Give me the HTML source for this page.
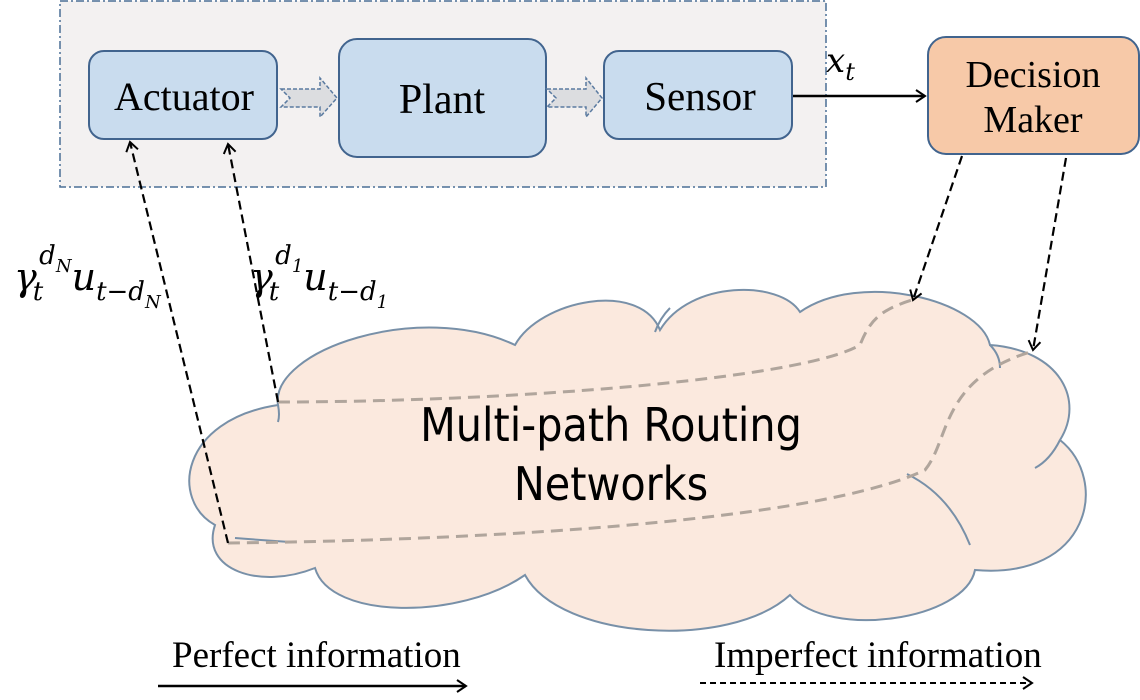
<!DOCTYPE html>
<html><head><meta charset="utf-8"><style>
body{margin:0;background:#fff;}
svg{display:block}
.s{font-family:"Liberation Serif",serif;fill:#000}
.m{font-family:"DejaVu Serif","Liberation Serif",serif;font-style:italic;fill:#000}
</style></head><body>
<svg width="1140" height="700" viewBox="0 0 1140 700" xmlns="http://www.w3.org/2000/svg">
<defs>
<marker id="ah" markerWidth="14" markerHeight="14" refX="11" refY="7" orient="auto" markerUnits="userSpaceOnUse">
<path d="M2,1 L11,7 L2,13" fill="none" stroke="#000" stroke-width="2"/>
</marker>
</defs>
<rect x="60" y="1" width="766" height="186" fill="#f3f1f1" stroke="#4a6f96" stroke-width="1.5" stroke-dasharray="8,3,2,3"/>
<rect x="89" y="51" width="188" height="88" rx="15" fill="#c9dcee" stroke="#41648e" stroke-width="2"/>
<text x="184" y="110" class="s" font-size="40" text-anchor="middle">Actuator</text>
<rect x="339" y="39" width="207" height="118" rx="18" fill="#c9dcee" stroke="#41648e" stroke-width="2"/>
<text x="442" y="113" class="s" font-size="42" text-anchor="middle">Plant</text>
<rect x="604" y="51" width="188" height="88" rx="15" fill="#c9dcee" stroke="#41648e" stroke-width="2"/>
<text x="700" y="110" class="s" font-size="41" text-anchor="middle">Sensor</text>
<rect x="928" y="37" width="211" height="117" rx="18" fill="#f7c9a8" stroke="#41648e" stroke-width="2"/>
<text x="1033" y="87" class="s" font-size="38" text-anchor="middle">Decision</text>
<text x="1033" y="132" class="s" font-size="38" text-anchor="middle">Maker</text>
<path d="M281,89 L320,89 L320,78 L337,98 L320,117 L320,107 L281,107 L290,98 Z" fill="#dcdde0" stroke="#5a7aa0" stroke-width="1.5" stroke-dasharray="4,2"/>
<path d="M547,89 L586,89 L586,78 L602,98 L586,117 L586,107 L547,107 L556,98 Z" fill="#dcdde0" stroke="#5a7aa0" stroke-width="1.5" stroke-dasharray="4,2"/>
<line x1="793" y1="96" x2="925" y2="96" stroke="#000" stroke-width="2.5" marker-end="url(#ah)"/>
<text x="826" y="72" class="m" font-size="34">x<tspan font-size="24" dy="8">t</tspan></text>
<path d="M278,405 C270,350 420,300 515,345 C540,300 640,280 660,330 C690,280 780,280 800,312 C860,270 980,300 990,345 C1060,350 1085,400 1060,440 C1110,480 1090,580 975,570 C965,620 830,640 790,595 C730,650 560,640 525,575 C460,620 330,620 315,568 C260,590 200,570 215,525 C170,500 180,420 278,405 Z" fill="#fbe9de" stroke="#7890a8" stroke-width="2"/>
<path d="M278,405 Q280,415 278,422 M235,538 Q260,540 290,542 M907,474 Q950,495 970,545 M1060,440 Q1050,460 1035,468 M990,345 Q1000,355 1000,368 M655,332 Q660,318 670,308" fill="none" stroke="#7890a8" stroke-width="2"/>
<text x="611" y="441" font-family="DejaVu Sans Condensed,Liberation Sans Narrow,Liberation Sans,sans-serif" font-size="46" text-anchor="middle" fill="#000">Multi-path Routing</text>
<text x="611" y="500" font-family="DejaVu Sans Condensed,Liberation Sans Narrow,Liberation Sans,sans-serif" font-size="46" text-anchor="middle" fill="#000">Networks</text>
<path d="M278,402 C500,402 800,380 860,345 C870,320 880,310 912,300" fill="none" stroke="#b0a59c" stroke-width="3" stroke-dasharray="12,7"/>
<path d="M228,543 C500,540 820,520 925,470 C950,440 940,380 1030,352" fill="none" stroke="#b0a59c" stroke-width="3" stroke-dasharray="12,7"/>
<line x1="228" y1="543" x2="130" y2="142" stroke="#000" stroke-width="2.2" stroke-dasharray="9,5" marker-end="url(#ah)"/>
<line x1="278" y1="402" x2="228" y2="144" stroke="#000" stroke-width="2.2" stroke-dasharray="9,5" marker-end="url(#ah)"/>
<line x1="962" y1="156" x2="913" y2="300" stroke="#000" stroke-width="2.2" stroke-dasharray="9,5" marker-end="url(#ah)"/>
<line x1="1066" y1="158" x2="1033" y2="350" stroke="#000" stroke-width="2.2" stroke-dasharray="9,5" marker-end="url(#ah)"/>
<text x="14" y="290" class="m" font-size="38">γ<tspan font-size="26" dy="10" dx="-4">t</tspan><tspan font-size="26" dy="-36" dx="-4">d</tspan><tspan font-size="18" dy="8">N</tspan><tspan font-size="38" dy="18">u</tspan><tspan font-size="26" dy="10">t−d</tspan><tspan font-size="18" dy="8">N</tspan></text>
<text x="250" y="290" class="m" font-size="38">γ<tspan font-size="26" dy="10" dx="-4">t</tspan><tspan font-size="26" dy="-36" dx="-4">d</tspan><tspan font-size="18" dy="8">1</tspan><tspan font-size="38" dy="18">u</tspan><tspan font-size="26" dy="10">t−d</tspan><tspan font-size="18" dy="8">1</tspan></text>
<text x="172" y="667" class="s" font-size="37">Perfect information</text>
<line x1="158" y1="686" x2="466" y2="686" stroke="#000" stroke-width="2.5" marker-end="url(#ah)"/>
<text x="714" y="667" class="s" font-size="37">Imperfect information</text>
<line x1="700" y1="683" x2="1032" y2="683" stroke="#000" stroke-width="2" stroke-dasharray="6,4" marker-end="url(#ah)"/>
</svg>
</body></html>
